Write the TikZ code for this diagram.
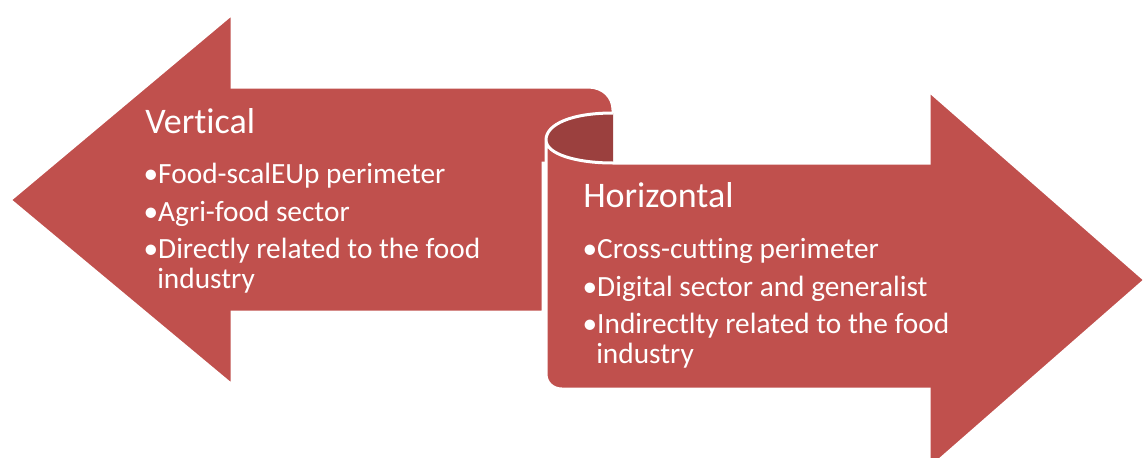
\documentclass[tikz,border=0pt]{standalone}
\usepackage{fontspec}
\setmainfont{Carlito}[Ligatures=NoCommon]
\usepackage{tikz}
\definecolor{arrowred}{RGB}{192,80,77}
\definecolor{curldark}{RGB}{155,64,62}
\newcommand{\bulletmark}{\makebox[9pt][l]{\kern-2pt•}}

\begin{document}
\begin{tikzpicture}[x=0.75pt,y=-0.75pt,
    title/.style={anchor=base west, white, inner sep=0pt, font=\fontsize{27}{32}\selectfont},
    item/.style={anchor=base west, white, inner sep=0pt, font=\fontsize{22}{26}\selectfont}]
    % Fix the page to the size of the reference
    \useasboundingbox (0,0) rectangle (1145,457);
    \clip (0,0) rectangle (1145,457);

    % Left arrow (vertical), its shaft rolls up into the curl
    \fill[arrowred, draw=white, line width=2.25pt] (10,200) -- (232,14) -- (232,87) -- (588,87)
        .. controls (603,87) and (613,97) .. (613,110) -- (613,163) -- (543,163)
        -- (543,312) -- (232,312) -- (232,385) -- cycle;

    % Inside of the curl
    \fill[curldark] (613,113) .. controls (572,113) and (546,124) .. (546,140)
        .. controls (546,154) and (576,162) .. (613,162) -- cycle;
    \draw[white, line width=2.25pt] (613,113) .. controls (572,113) and (546,124) .. (546,140);

    % Right arrow (horizontal)
    \fill[arrowred, draw=white, line width=2.25pt] (546,140) .. controls (546,154) and (576,163) .. (613,163)
        -- (929,163) -- (929,91) -- (1145,280) -- (929,469) -- (929,389) -- (562,389)
        .. controls (553,389) and (546,383) .. (546,374) -- cycle;

    % Texts of the left arrow
    \node[title] (vtitle) at (145,133) {Vertical};
    \node[item] (vitem1) at (146,183) {\bulletmark Food-scalEUp perimeter};
    \node[item] (vitem2) at (146,221) {\bulletmark Agri-food sector};
    \node[item] (vitem3) at (146,258) {\bulletmark Directly related to the food};
    \node[item] (vitem3b) at (157,288) {industry};

    % Texts of the right arrow
    \node[title] (htitle) at (583,207) {Horizontal};
    \node[item] (hitem1) at (585,258) {\bulletmark Cross-cutting perimeter};
    \node[item] (hitem2) at (585,296) {\bulletmark Digital sector and generalist};
    \node[item] (hitem3) at (585,333) {\bulletmark Indirectlty related to the food};
    \node[item] (hitem3b) at (596,363) {industry};
\end{tikzpicture}
\end{document}
